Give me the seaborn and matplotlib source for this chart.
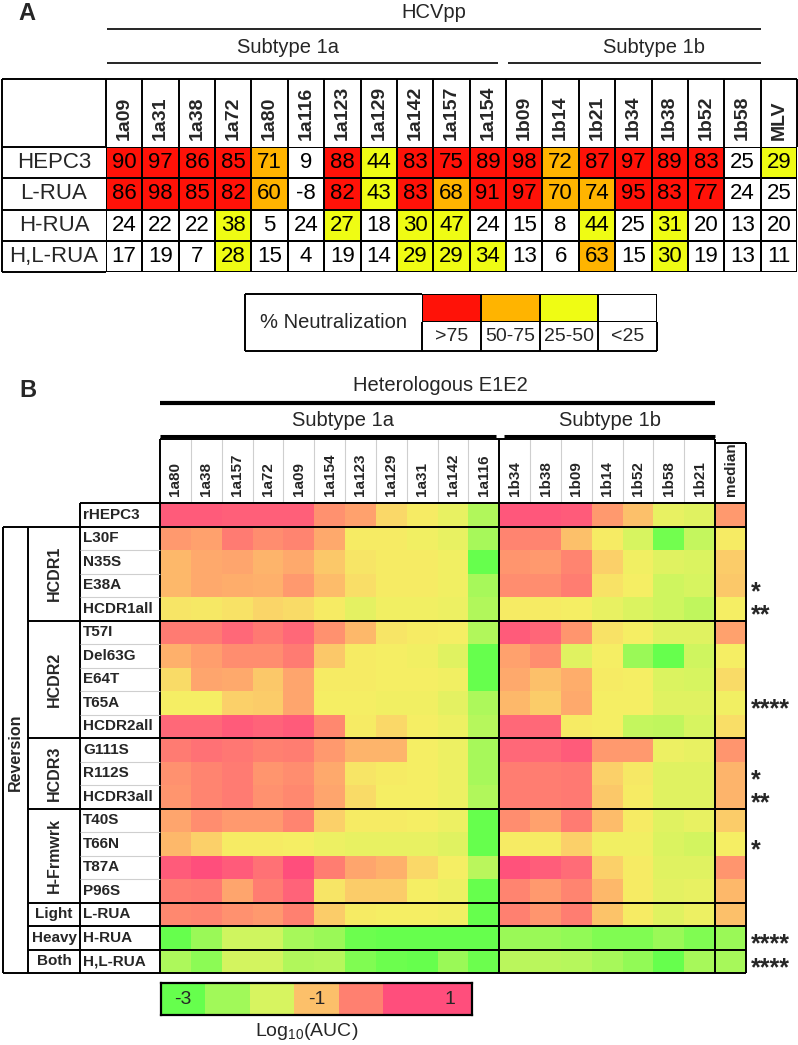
import numpy as np
import pandas as pd
import matplotlib
matplotlib.use('Agg')
import matplotlib.pyplot as plt
import seaborn as sns
from matplotlib.colors import ListedColormap, LinearSegmentedColormap

# ---------------- panel A data (% neutralization, HCVpp) ----------------
hcvpp_strains = ['1a09', '1a31', '1a38', '1a72', '1a80', '1a116', '1a123', '1a129', '1a142', '1a157',
                 '1a154', '1b09', '1b14', '1b21', '1b34', '1b38', '1b52', '1b58', 'MLV']
hcvpp_abs = ['HEPC3', 'L-RUA', 'H-RUA', 'H,L-RUA']
hepc3_neut = [90, 97, 86, 85, 71, 9, 88, 44, 83, 75, 89, 98, 72, 87, 97, 89, 83, 25, 29]
lrua_neut = [86, 98, 85, 82, 60, -8, 82, 43, 83, 68, 91, 97, 70, 74, 95, 83, 77, 24, 25]
hrua_neut = [24, 22, 22, 38, 5, 24, 27, 18, 30, 47, 24, 15, 8, 44, 25, 31, 20, 13, 20]
hlrua_neut = [17, 19, 7, 28, 15, 4, 19, 14, 29, 29, 34, 13, 6, 63, 15, 30, 19, 13, 11]
neut_legend = ['>75', '50-75', '25-50', '<25']

# ---------------- panel B data (log10 AUC, heterologous E1E2) ----------------
e1e2_strains = ['1a80', '1a38', '1a157', '1a72', '1a09', '1a154', '1a123', '1a129', '1a31', '1a142',
                '1a116', '1b34', '1b38', '1b09', '1b14', '1b52', '1b58', '1b21', 'median']
variants = ['rHEPC3', 'L30F', 'N35S', 'E38A', 'HCDR1all', 'T57I', 'Del63G', 'E64T', 'T65A', 'HCDR2all',
            'G111S', 'R112S', 'HCDR3all', 'T40S', 'T66N', 'T87A', 'P96S', 'L-RUA', 'H-RUA', 'H,L-RUA']
rhepc3 = [0.6, 0.6, 0.5, 0.5, 0.5, -0.4, -0.6, -1.3, -1.6, -1.8, -2.4, 0.7, 0.7, 0.6, -0.5, -1.0, -1.8, -1.9, -0.5]
l30f = [-0.5, -0.6, -0.1, -0.35, -0.25, -0.7, -1.6, -1.6, -1.7, -1.8, -2.5, -0.25, -0.25, -1.0, -1.6, -2.0, -2.9, -2.2, -1.6]
n35s = [-0.9, -0.7, -0.65, -0.85, -0.7, -1.1, -1.5, -1.6, -1.6, -1.7, -3.0, -0.45, -0.5, -0.25, -1.2, -1.7, -1.9, -1.95, -1.15]
e38a = [-0.9, -0.7, -0.75, -0.8, -0.5, -0.95, -1.4, -1.6, -1.6, -1.7, -2.5, -0.35, -0.35, -0.15, -1.45, -1.65, -2.1, -2.0, -1.1]
hcdr1all = [-1.5, -1.55, -1.45, -1.25, -1.35, -1.6, -1.85, -1.7, -1.7, -1.75, -2.4, -1.6, -1.6, -1.65, -1.8, -1.95, -2.1, -2.25, -1.65]
t57i = [-0.1, -0.1, 0.3, -0.05, 0.3, -0.4, -0.9, -1.5, -1.6, -1.65, -2.4, 0.6, 0.35, -0.45, -1.45, -1.65, -1.9, -1.9, -0.6]
del63g = [-0.8, -0.55, -0.35, -0.35, -0.1, -1.1, -1.6, -1.65, -1.7, -1.9, -3.0, -0.6, -0.35, -1.9, -1.65, -2.6, -3.0, -2.1, -1.65]
e64t = [-1.35, -0.65, -0.7, -1.1, -0.65, -1.6, -1.6, -1.65, -1.65, -1.7, -3.0, -0.7, -1.0, -0.75, -1.6, -1.65, -1.95, -2.0, -1.35]
t65a = [-1.65, -1.65, -1.2, -1.15, -0.65, -1.65, -1.65, -1.7, -1.7, -1.85, -2.45, -0.9, -1.15, -0.7, -1.65, -1.65, -1.9, -1.9, -1.7]
hcdr2all = [0.3, 0.3, 0.6, 0.4, 0.6, -0.3, -1.6, -1.3, -1.65, -1.75, -2.35, 0.3, 0.3, -1.6, -1.65, -2.2, -2.25, -2.0, -1.4]
g111s = [-0.1, 0.1, 0.0, -0.2, -0.15, -0.5, -0.85, -0.85, -1.65, -1.75, -2.5, 0.3, 0.3, 0.6, -0.5, -0.5, -1.75, -1.8, -0.45]
r112s = [-0.4, -0.25, -0.1, -0.45, -0.35, -0.7, -1.5, -1.6, -1.65, -1.75, -2.5, -0.15, -0.15, -0.05, -1.2, -1.55, -1.9, -1.9, -0.85]
hcdr3all = [-0.45, -0.25, -0.1, -0.4, -0.3, -0.65, -1.35, -1.65, -1.65, -1.75, -2.4, -0.15, -0.15, -0.05, -1.1, -1.6, -1.9, -1.9, -0.85]
t40s = [-0.65, -0.35, -0.5, -0.5, -0.25, -1.2, -1.6, -1.6, -1.65, -1.75, -3.0, -0.35, -0.6, -0.1, -0.95, -1.6, -1.9, -1.8, -1.15]
t66n = [-0.9, -1.2, -1.6, -1.6, -1.65, -1.75, -1.8, -1.8, -1.8, -1.9, -3.0, -1.6, -1.6, -1.2, -1.7, -1.7, -1.95, -2.05, -1.65]
t87a = [0.6, 0.9, 0.6, 0.1, 0.9, -0.15, -0.65, -0.8, -1.3, -1.65, -2.3, 0.8, 0.55, 0.2, -1.2, -1.6, -1.9, -1.9, -0.45]
p96s = [-0.15, -0.05, -0.65, -0.15, 0.4, -1.5, -1.15, -1.15, -1.65, -1.75, -3.0, -0.25, -0.5, -0.25, -0.9, -1.6, -1.85, -1.8, -0.9]
l_rua = [-0.3, -0.25, -0.4, -0.5, -0.2, -1.15, -1.6, -1.65, -1.65, -1.7, -3.0, -0.2, -0.45, -0.15, -1.05, -1.6, -1.9, -1.75, -1.0]
h_rua = [-3.0, -2.6, -2.1, -2.1, -2.5, -2.6, -2.95, -3.0, -3.0, -3.0, -3.0, -2.6, -2.6, -2.65, -2.8, -2.8, -2.6, -2.8, -2.6]
hl_rua = [-2.45, -2.7, -2.05, -2.05, -2.4, -2.35, -2.8, -2.95, -3.0, -2.6, -2.95, -2.3, -2.3, -2.35, -2.5, -2.65, -3.0, -2.5, -2.5]
significance = {'E38A': '*', 'HCDR1all': '**', 'T65A': '****', 'R112S': '*', 'HCDR3all': '**',
                'T66N': '*', 'H-RUA': '****', 'H,L-RUA': '****'}
colorbar_steps = [-3.0, -2.55, -2.0, -1.0, -0.2, 0.9, 0.9]

sns.set_style('white')
plt.rcParams['font.family'] = ['Liberation Sans', 'DejaVu Sans']
plt.rcParams['mathtext.default'] = 'regular'

W, H = 798, 1045
fig = plt.figure(figsize=(W / 100, H / 100), dpi=100)


def px_axes(x0, y0, x1, y1):
    return fig.add_axes([x0 / W, 1 - y1 / H, (x1 - x0) / W, (y1 - y0) / H])


def neut_class(v):
    if v >= 75:
        return 3
    if v >= 50:
        return 2
    if v > 25:
        return 1
    return 0


neut_cmap = ListedColormap(['#ffffff', '#effc14', '#ffb400', '#ff1208'])

# ================= panel A =================
dfA = pd.DataFrame([hepc3_neut, lrua_neut, hrua_neut, hlrua_neut], index=hcvpp_abs, columns=hcvpp_strains)
axA = px_axes(106, 147, 797, 272)
sns.heatmap(dfA.map(neut_class), annot=dfA, fmt='d', cmap=neut_cmap, vmin=-0.5, vmax=3.5,
            linewidths=1.4, linecolor='black', cbar=False, ax=axA,
            annot_kws={'fontsize': 16, 'color': 'black'})
axA.xaxis.tick_top()
axA.set_xticklabels(hcvpp_strains, rotation=90, fontsize=14, fontweight='bold')
axA.tick_params(axis='x', length=0, pad=5)
axA.set_yticks([])
axA.set_xlabel('')
axA.set_ylabel('')
lk = dict(colors='black', lw=1.4, clip_on=False)
axA.vlines(np.arange(20), -2.18, 0, **lk)
axA.hlines(-2.18, -2.85, 19, **lk)
axA.hlines(np.arange(5), -2.85, 0, **lk)
axA.vlines(-2.85, -2.18, 4, **lk)
for i, name in enumerate(hcvpp_abs):
    axA.text(-1.43, i + 0.5, name, ha='center', va='center', fontsize=16)
axA.text(9, -4.32, 'HCVpp', ha='center', va='center', fontsize=14.5)
axA.hlines(-3.78, 0.03, 18.0, colors='black', lw=1.2, clip_on=False)
axA.text(5.0, -3.17, 'Subtype 1a', ha='center', va='center', fontsize=14.5)
axA.text(15.07, -3.17, 'Subtype 1b', ha='center', va='center', fontsize=14.5)
axA.hlines(-2.69, 0.03, 10.78, colors='black', lw=1.2, clip_on=False)
axA.hlines(-2.69, 11.05, 18.0, colors='black', lw=1.2, clip_on=False)
fig.text(27 / W, 1 - 13 / H, 'A', ha='center', va='center', fontsize=17, fontweight='bold')

# legend table
axL = px_axes(422, 294, 657, 322)
sns.heatmap([[3, 2, 1, 0]], cmap=neut_cmap, vmin=-0.5, vmax=3.5, linewidths=1.4, linecolor='black',
            cbar=False, xticklabels=False, yticklabels=False, ax=axL)
axL.vlines(np.arange(5), 1, 2.04, **lk)
axL.hlines(2.04, -3.01, 4, **lk)
axL.hlines(0, -3.01, 0, **lk)
axL.vlines(-3.01, 0, 2.04, **lk)
for i, lab in enumerate(neut_legend):
    axL.text(i + 0.5, 1.52, lab, ha='center', va='center', fontsize=14)
axL.text(-1.5, 1.02, '% Neutralization', ha='center', va='center', fontsize=14.5)

# ================= panel B =================
dfB = pd.DataFrame([rhepc3, l30f, n35s, e38a, hcdr1all, t57i, del63g, e64t, t65a, hcdr2all,
                    g111s, r112s, hcdr3all, t40s, t66n, t87a, p96s, l_rua, h_rua, hl_rua],
                   index=variants, columns=e1e2_strains)
vmin, vmax = -3.0, 0.9
nodes = [(-3.0, '#66ff4d'), (-2.5, '#a8f85a'), (-2.0, '#d8f460'), (-1.65, '#f5ee64'), (-1.3, '#fad868'),
         (-0.9, '#fdb86a'), (-0.5, '#ff9a6e'), (-0.2, '#ff8070'), (0.3, '#ff6878'), (0.9, '#ff4e7c')]
auc_cmap = LinearSegmentedColormap.from_list('auc', [((v - vmin) / (vmax - vmin), c) for v, c in nodes])

axB = px_axes(160, 503, 746, 973)
sns.heatmap(dfB, cmap=auc_cmap, vmin=vmin, vmax=vmax, cbar=False, ax=axB, yticklabels=False)
axB.xaxis.tick_top()
axB.set_xticklabels(e1e2_strains, rotation=90, fontsize=11, fontweight='bold')
axB.tick_params(axis='x', length=0, pad=5)
axB.set_xlabel('')
axB.set_ylabel('')


def bx(px):
    return (px - 160) / 30.85


bk = dict(colors='black', lw=1.4, clip_on=False)
gk = dict(colors='#cfcfcf', lw=0.8, clip_on=False)
# header cells
axB.vlines([c for c in range(1, 18) if c != 11], -2.72, 0, **gk)
axB.hlines(-2.72, 0, 18, **bk)
axB.hlines(-2.55, 18, 19, **bk)
axB.vlines([0, 11, 18], -2.72, 20, **bk)
axB.vlines(19, -2.55, 20, **bk)
# row group boundaries
axB.hlines(0, bx(80), 19, **bk)
axB.hlines([1, 20], bx(3), 19, **bk)
axB.hlines([5, 10, 13, 17, 18, 19], bx(28), 19, **bk)
axB.vlines(bx(80), 0, 20, **bk)
axB.vlines([bx(3), bx(28)], 1, 20, **bk)
axB.hlines([2, 3, 4, 6, 7, 8, 9, 11, 12, 14, 15, 16], bx(80), 0, **gk)
for i, name in enumerate(variants):
    axB.text(bx(83), i + 0.5, name, ha='left', va='center', fontsize=11, fontweight='bold')
    if name in significance:
        axB.text(bx(751), i + 0.78, significance[name], ha='left', va='center', fontsize=18,
                 fontweight='bold')
for lab, yc in [('HCDR1', 3.0), ('HCDR2', 7.5), ('HCDR3', 11.5), ('H-Frmwrk', 15.0)]:
    axB.text(bx(54), yc, lab, ha='center', va='center', rotation=90, fontsize=11.5, fontweight='bold')
for lab, yc in [('Light', 17.5), ('Heavy', 18.5), ('Both', 19.5)]:
    axB.text(bx(54), yc, lab, ha='center', va='center', fontsize=11, fontweight='bold')
axB.text(bx(15), 10.6, 'Reversion', ha='center', va='center', rotation=90, fontsize=11.5, fontweight='bold')

axB.text(9.08, -4.98, 'Heterologous E1E2', ha='center', va='center', fontsize=14.5)
axB.hlines(-4.26, 0, 18, colors='black', lw=3, clip_on=False)
axB.text(5.93, -3.49, 'Subtype 1a', ha='center', va='center', fontsize=14.5)
axB.text(14.6, -3.49, 'Subtype 1b', ha='center', va='center', fontsize=14.5)
axB.hlines(-2.85, 0, 10.9, colors='black', lw=2.2, clip_on=False)
axB.hlines(-2.85, 11.15, 18, colors='black', lw=2.2, clip_on=False)
fig.text(28 / W, 1 - 391 / H, 'B', ha='center', va='center', fontsize=17, fontweight='bold')

# colour key
axC = px_axes(161, 983, 472, 1015)
sns.heatmap([colorbar_steps], cmap=auc_cmap, vmin=vmin, vmax=vmax, cbar=False,
            xticklabels=False, yticklabels=False, ax=axC)
for s in axC.spines.values():
    s.set_visible(True)
    s.set_linewidth(1.6)
    s.set_color('black')
for pos, lab in [(0.5, '-3'), (3.5, '-1'), (6.5, '1')]:
    axC.text(pos, 0.5, lab, ha='center', va='center', fontsize=14)
fig.text(307 / W, 1 - 1032 / H, r'Log$_{\mathregular{10}}$(AUC)', ha='center', va='center', fontsize=14)

fig.savefig('out.png', dpi=100)
plt.close(fig)
